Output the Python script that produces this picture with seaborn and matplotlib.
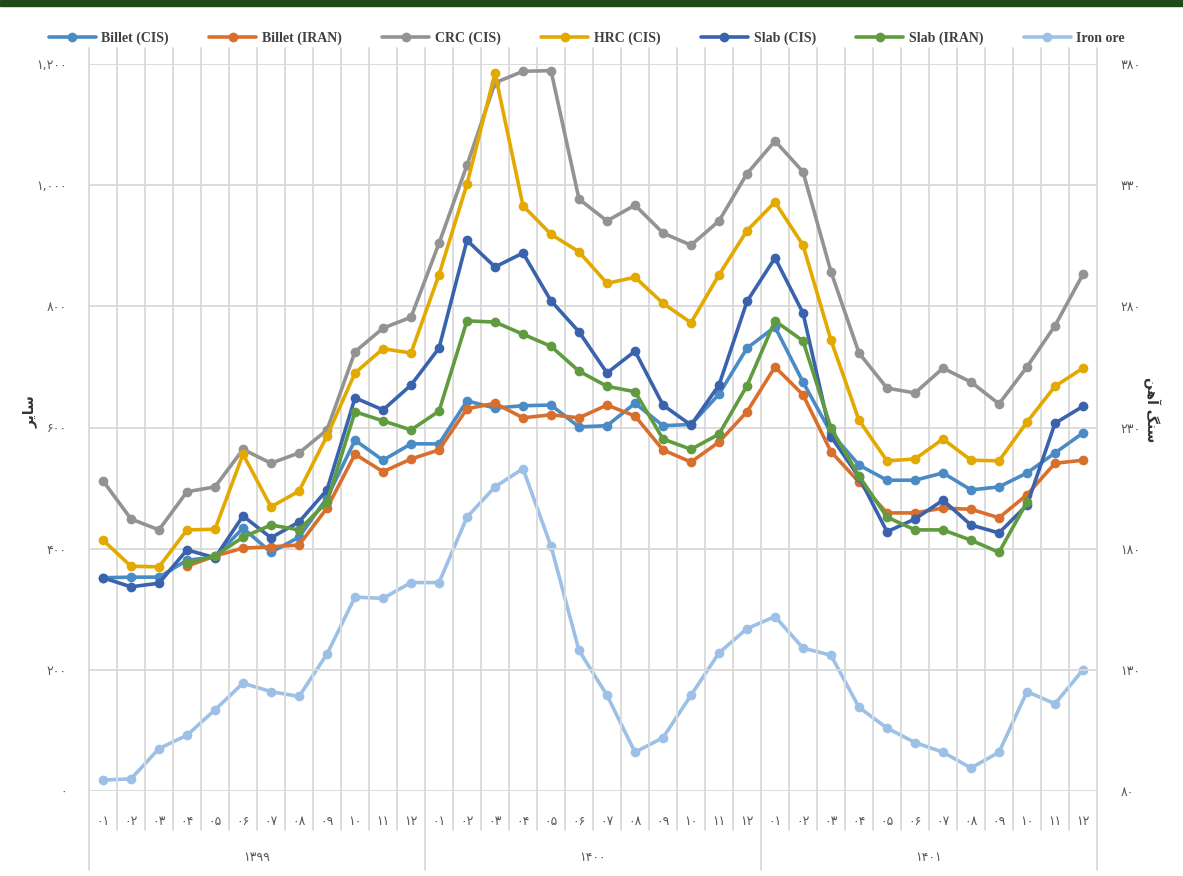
import numpy as np
import pandas as pd
import matplotlib
matplotlib.use("Agg")
import matplotlib.pyplot as plt
import matplotlib.transforms as mtransforms
from matplotlib.lines import Line2D
from matplotlib.patches import Rectangle
import seaborn as sns

# ---- data ----
years = ["۱۳۹۹", "۱۴۰۰", "۱۴۰۱"]
months = ["۰۱", "۰۲", "۰۳", "۰۴", "۰۵", "۰۶", "۰۷", "۰۸", "۰۹", "۱۰", "۱۱", "۱۲"]
nan = np.nan

billet_cis = [352, 353, 353, 381, 386, 434, 394, 419, 484, 579, 546, 573,
              573, 644, 632, 636, 637, 601, 603, 640, 603, 605, 655, 731,
              766, 675, 591, 538, 513, 513, 525, 497, 502, 525, 558, 591]
billet_iran = [nan, nan, nan, 371, 388, 401, 403, 406, 467, 556, 527, 548,
               563, 631, 640, 616, 621, 616, 637, 619, 563, 543, 576, 626,
               700, 654, 560, 510, 459, 459, 467, 465, 451, 489, 541, 546]
crc = [512, 449, 431, 494, 502, 564, 541, 558, 596, 725, 764, 782,
       904, 1033, 1169, 1188, 1189, 977, 941, 967, 921, 901, 941, 1019,
       1073, 1022, 857, 723, 665, 657, 698, 675, 639, 700, 768, 853]
hrc = [414, 371, 370, 431, 432, 556, 469, 495, 586, 690, 730, 723,
       852, 1002, 1185, 966, 919, 890, 838, 848, 805, 773, 852, 925,
       972, 901, 744, 612, 545, 548, 581, 546, 545, 609, 668, 698]
slab_cis = [352, 337, 343, 398, 385, 454, 418, 444, 497, 649, 629, 670,
            731, 909, 865, 888, 809, 758, 690, 726, 637, 604, 670, 808,
            880, 789, 585, 518, 428, 449, 480, 439, 426, 472, 607, 635]
slab_iran = [nan, nan, nan, 376, 388, 419, 439, 431, 477, 626, 611, 596,
             627, 776, 774, 754, 734, 693, 668, 659, 581, 564, 589, 669,
             776, 743, 599, 520, 452, 431, 431, 414, 394, 477, nan, nan]
iron_ore = [84.5, 85, 97.5, 103, 113.5, 124.5, 121, 119, 136.5, 160, 159.5, 166,
            166, 193, 205.5, 213, 181, 138, 119.5, 96, 102, 119.5, 137, 147,
            152, 139, 136, 114.5, 106, 100, 96, 89.5, 96, 121, 116, 130]

left_series = {
    "Billet (CIS)": billet_cis,
    "Billet (IRAN)": billet_iran,
    "CRC (CIS)": crc,
    "HRC (CIS)": hrc,
    "Slab (CIS)": slab_cis,
    "Slab (IRAN)": slab_iran,
}
colors = {
    "Billet (CIS)": "#4a8bc6",
    "Billet (IRAN)": "#d96f2d",
    "CRC (CIS)": "#939393",
    "HRC (CIS)": "#e3a900",
    "Slab (CIS)": "#3a63ae",
    "Slab (IRAN)": "#609c3f",
    "Iron ore": "#9dc1e6",
}

n = len(months) * len(years)
idx = np.arange(n)
df = pd.concat([pd.DataFrame({"idx": idx, "value": v, "series": k})
                for k, v in left_series.items()], ignore_index=True)
df_ore = pd.DataFrame({"idx": idx, "value": iron_ore, "series": "Iron ore"})

sns.set_style("white")
plt.rcParams["font.family"] = ["DejaVu Sans"]

fig = plt.figure(figsize=(11.83, 8.76), dpi=100)
ax = fig.add_axes([89 / 1183, 1 - 791 / 876, 1008 / 1183, 727 / 876])
ax2 = ax.twinx()

line_kw = dict(marker="o", markersize=7, markeredgewidth=0, linewidth=2.6,
               legend=False, sort=False)
sns.lineplot(data=df, x="idx", y="value", hue="series",
             palette=colors, ax=ax, **line_kw)
sns.lineplot(data=df_ore, x="idx", y="value", color=colors["Iron ore"],
             ax=ax2, **line_kw)

ax.set_xlim(-0.5, n - 0.5)
ax.set_ylim(0, 1200)
ax2.set_ylim(80, 380)
ax.set_yticks(range(0, 1201, 200))
ax2.set_yticks(range(80, 381, 50))

fa = str.maketrans("0123456789", "۰۱۲۳۴۵۶۷۸۹")
ax.set_yticklabels([f"{v:,}".translate(fa) for v in range(0, 1201, 200)])
ax2.set_yticklabels([str(v).translate(fa) for v in range(80, 381, 50)])
ax.set_xticks(idx)
ax.set_xticklabels(months * len(years))

tick_col = "#595959"
ax.tick_params(axis="y", length=0, pad=16, labelsize=9, labelcolor=tick_col)
ax2.tick_params(axis="y", length=0, pad=17, labelsize=9, labelcolor=tick_col)
ax.tick_params(axis="x", length=0, pad=17, labelsize=9, labelcolor=tick_col)

for a in (ax, ax2):
    for s in a.spines.values():
        s.set_visible(False)
    a.set_xlabel("")
    a.set_ylabel("")

grid_col = "#d9d9d9"
ax.yaxis.grid(True, color=grid_col, linewidth=1.3)
ax.set_axisbelow(True)
ax.set_zorder(ax2.get_zorder() + 1)
ax.patch.set_visible(False)

trans = mtransforms.blended_transform_factory(ax.transData, ax.transAxes)
bounds = np.arange(-0.5, n, 1)
for b in bounds:
    major = (b + 0.5) % 12 == 0
    ax.plot([b, b], [-0.109 if major else -0.054, 1.022], transform=trans,
            color=grid_col, linewidth=1.3, clip_on=False, zorder=0)
for i, y in enumerate(years):
    ax.text(i * 12 + 5.5, -0.091, y, transform=trans, ha="center", va="center",
            fontsize=9, color=tick_col)

# axis titles (pre-shaped Persian glyphs)
fig.text(30 / 1183, 1 - 412 / 876, "ﺮﯾﺎﺳ", rotation=90, ha="center", va="center",
         fontsize=10, fontweight="bold", color="#333333")
fig.text(1152 / 1183, 1 - 410 / 876, "ﻦﻫﺁ ﮓﻨﺳ", rotation=270, ha="center", va="center",
         fontsize=10, fontweight="bold", color="#333333")

handles = [Line2D([], [], color=colors[k], marker="o", markersize=7,
                  markeredgewidth=0, linewidth=2.6) for k in colors]
fig.legend(handles, list(colors), loc="center", bbox_to_anchor=(0.496, 1 - 38 / 876),
           ncol=7, frameon=False, handlelength=3.4, handletextpad=0.4,
           columnspacing=2.9, labelcolor="#404040",
           prop={"family": "Liberation Serif", "weight": "bold", "size": 10})

fig.patches.append(Rectangle((0, 1 - 6 / 876), 1, 6 / 876, transform=fig.transFigure,
                             color="#1f4a17", zorder=5))

fig.savefig("out.png", dpi=100)
